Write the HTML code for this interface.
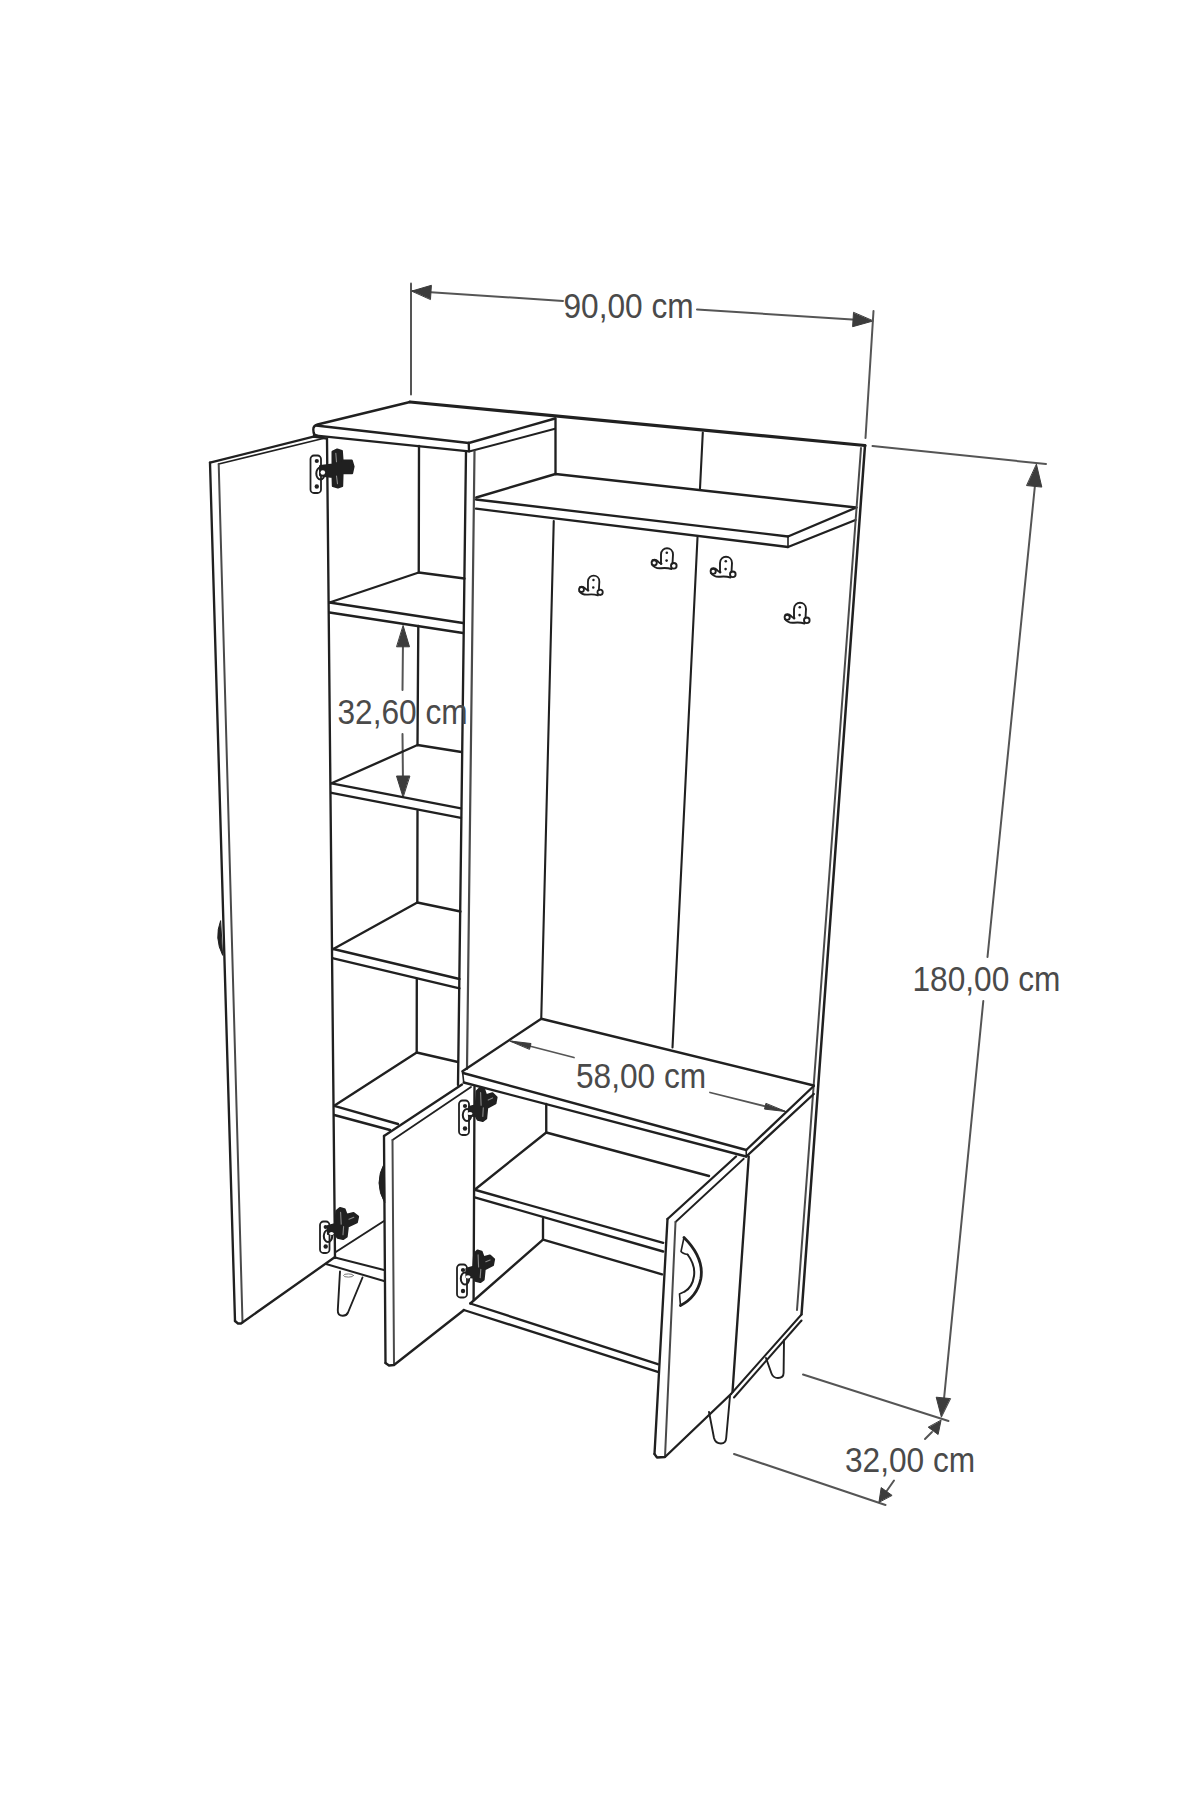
<!DOCTYPE html>
<html><head><meta charset="utf-8"><style>
html,body{margin:0;padding:0;background:#fff;}
svg{display:block;}
text{font-family:"Liberation Sans",sans-serif;}
</style></head><body>
<svg width="1200" height="1800" viewBox="0 0 1200 1800" stroke-linecap="round">
<rect width="1200" height="1800" fill="#fff"/>
<line x1="411" y1="283.5" x2="411" y2="394.5" stroke="#555555" stroke-width="2.0"/>
<line x1="412" y1="291" x2="563" y2="301" stroke="#555555" stroke-width="2.0"/>
<line x1="697" y1="309.5" x2="860" y2="320" stroke="#555555" stroke-width="2.0"/>
<path d="M412.0,291.0 L431.4,285.3 L430.5,299.2 Z" fill="#3c3c3c" stroke="#3c3c3c" stroke-width="1" stroke-linejoin="round"/>
<path d="M873.0,321.0 L852.6,326.7 L853.5,312.7 Z" fill="#3c3c3c" stroke="#3c3c3c" stroke-width="1" stroke-linejoin="round"/>
<line x1="873.5" y1="311" x2="865.5" y2="438" stroke="#555555" stroke-width="2.0"/>
<line x1="872.5" y1="446" x2="1046" y2="464" stroke="#555555" stroke-width="2.0"/>
<line x1="1035.5" y1="480" x2="987.5" y2="957" stroke="#555555" stroke-width="2.0"/>
<line x1="983.3" y1="1001" x2="943.5" y2="1404" stroke="#555555" stroke-width="2.0"/>
<path d="M1036.5,464.5 L1041.8,487.1 L1026.9,485.6 Z" fill="#3c3c3c" stroke="#3c3c3c" stroke-width="1" stroke-linejoin="round"/>
<path d="M941.3,1416.8 L936.2,1397.2 L950.2,1398.6 Z" fill="#3c3c3c" stroke="#3c3c3c" stroke-width="1" stroke-linejoin="round"/>
<line x1="803" y1="1374.5" x2="948.5" y2="1421" stroke="#555555" stroke-width="2.0"/>
<line x1="734" y1="1454" x2="885.5" y2="1505" stroke="#555555" stroke-width="2.0"/>
<line x1="932" y1="1432" x2="925" y2="1439" stroke="#555555" stroke-width="2.0"/>
<line x1="894" y1="1480.5" x2="886" y2="1492" stroke="#555555" stroke-width="2.0"/>
<path d="M941.0,1420.5 L938.1,1434.5 L928.5,1427.4 Z" fill="#3c3c3c" stroke="#3c3c3c" stroke-width="1" stroke-linejoin="round"/>
<path d="M879.0,1502.0 L881.2,1487.6 L891.8,1495.2 Z" fill="#3c3c3c" stroke="#3c3c3c" stroke-width="1" stroke-linejoin="round"/>
<line x1="403" y1="640" x2="402.5" y2="690" stroke="#555555" stroke-width="2.0"/>
<line x1="402.5" y1="734" x2="403" y2="785" stroke="#555555" stroke-width="2.0"/>
<path d="M403.2,625.8 L409.5,646.8 L396.9,646.8 Z" fill="#3c3c3c" stroke="#3c3c3c" stroke-width="1" stroke-linejoin="round"/>
<path d="M403.0,797.0 L396.5,776.0 L409.5,776.0 Z" fill="#3c3c3c" stroke="#3c3c3c" stroke-width="1" stroke-linejoin="round"/>
<line x1="512" y1="1041.5" x2="574" y2="1057.5" stroke="#555555" stroke-width="1.8"/>
<line x1="710" y1="1092.5" x2="784" y2="1111" stroke="#555555" stroke-width="1.8"/>
<path d="M510.0,1041.0 L531.0,1043.5 L529.6,1049.0 Z" fill="#3c3c3c" stroke="#3c3c3c" stroke-width="1" stroke-linejoin="round"/>
<path d="M785.5,1111.5 L764.5,1109.1 L765.8,1103.7 Z" fill="#3c3c3c" stroke="#3c3c3c" stroke-width="1" stroke-linejoin="round"/>
<path d="M210,462.7 L313.5,436.7 L327,438.7" fill="none" stroke="#202020" stroke-width="2.35" stroke-linejoin="round"/>
<line x1="218.7" y1="464" x2="323" y2="438.5" stroke="#202020" stroke-width="1.8"/>
<line x1="210" y1="462.7" x2="235" y2="1321" stroke="#202020" stroke-width="2.35"/>
<line x1="218.7" y1="464" x2="242.5" y2="1322.5" stroke="#4a4a4a" stroke-width="2.0"/>
<path d="M235,1321 L238,1323.5 L241,1323.5 L335,1257" fill="none" stroke="#202020" stroke-width="2.35" stroke-linejoin="round"/>
<line x1="327" y1="438.7" x2="335" y2="1258" stroke="#202020" stroke-width="2.35"/>
<path d="M220.5,921 Q214,938 222.5,955 Z" fill="#202020" stroke="#202020" stroke-width="1" stroke-linejoin="round" />
<path d="M410,402 L317.5,424.5 Q313.2,425.6 313.3,429.5 L313.6,432.5 Q314,435.4 317,435.6" fill="none" stroke="#202020" stroke-width="2.35" stroke-linejoin="round" />
<line x1="410" y1="402" x2="865" y2="445.5" stroke="#202020" stroke-width="3.2"/>
<path d="M555,418.5 L468.75,443" fill="none" stroke="#202020" stroke-width="2.35" stroke-linejoin="round"/>
<path d="M316,425.5 L468.75,443" fill="none" stroke="#202020" stroke-width="2.35" stroke-linejoin="round"/>
<path d="M314,435.3 L469,451.3" fill="none" stroke="#202020" stroke-width="2.35" stroke-linejoin="round"/>
<line x1="468.75" y1="443" x2="469" y2="451.3" stroke="#202020" stroke-width="2.35"/>
<line x1="470" y1="451.3" x2="555" y2="428.75" stroke="#202020" stroke-width="2"/>
<line x1="555.5" y1="418.5" x2="555.5" y2="474" stroke="#202020" stroke-width="2.35"/>
<line x1="702.8" y1="432.5" x2="700" y2="488.5" stroke="#202020" stroke-width="2.1"/>
<line x1="466" y1="451.3" x2="458" y2="1085" stroke="#202020" stroke-width="2.35"/>
<line x1="474.5" y1="451.3" x2="467" y2="1069" stroke="#4a4a4a" stroke-width="2.2"/>
<line x1="419" y1="446" x2="418.75" y2="572.5" stroke="#202020" stroke-width="2.35"/>
<line x1="418.3" y1="626" x2="417.5" y2="745" stroke="#202020" stroke-width="2.35"/>
<line x1="417.5" y1="811" x2="417.3" y2="902.5" stroke="#202020" stroke-width="2.35"/>
<line x1="416.8" y1="979" x2="416.7" y2="1052.5" stroke="#202020" stroke-width="2.35"/>
<path d="M329.5,602.5 L418.75,572.5 L464.5,578.5" fill="none" stroke="#202020" stroke-width="2.35" stroke-linejoin="round"/>
<line x1="329.5" y1="602.5" x2="463" y2="623" stroke="#202020" stroke-width="2.35"/>
<line x1="329.5" y1="612.5" x2="463" y2="633" stroke="#202020" stroke-width="2.35"/>
<path d="M331.5,783.3 L417.5,745 L461.5,752" fill="none" stroke="#202020" stroke-width="2.35" stroke-linejoin="round"/>
<line x1="331.5" y1="783.3" x2="461" y2="808.3" stroke="#202020" stroke-width="2.35"/>
<line x1="331.5" y1="792.8" x2="461" y2="817.8" stroke="#202020" stroke-width="2.35"/>
<path d="M333.3,949 L417.3,902.5 L460.5,911.5" fill="none" stroke="#202020" stroke-width="2.35" stroke-linejoin="round"/>
<line x1="333.3" y1="949" x2="459.5" y2="979" stroke="#202020" stroke-width="2.35"/>
<line x1="333.3" y1="958.3" x2="459.5" y2="988.3" stroke="#202020" stroke-width="2.35"/>
<path d="M334.2,1105.8 L416.7,1052.5 L458,1062" fill="none" stroke="#202020" stroke-width="2.35" stroke-linejoin="round"/>
<line x1="334.2" y1="1105.8" x2="398" y2="1124" stroke="#202020" stroke-width="2.35"/>
<line x1="334.2" y1="1115" x2="390" y2="1130" stroke="#202020" stroke-width="2.35"/>
<line x1="335" y1="1252.5" x2="384" y2="1221" stroke="#202020" stroke-width="2"/>
<line x1="335" y1="1257.5" x2="384" y2="1270" stroke="#202020" stroke-width="2"/>
<line x1="326" y1="1264" x2="384" y2="1281" stroke="#202020" stroke-width="2"/>
<path d="M340,1271.5 L337.8,1310 Q337.5,1315.8 342.8,1315.8 Q346.5,1315.8 348,1312.5 L362.5,1277.5" fill="none" stroke="#202020" stroke-width="1.9" stroke-linejoin="round" />
<ellipse cx="348.5" cy="1275.5" rx="5" ry="1.6" fill="none" stroke="#777" stroke-width="1"/>
<path d="M476.25,497.5 L555.5,474 L856,507.5" fill="none" stroke="#202020" stroke-width="2.35" stroke-linejoin="round"/>
<line x1="476" y1="499.5" x2="788" y2="536.5" stroke="#202020" stroke-width="2.35"/>
<line x1="476" y1="508.7" x2="788" y2="547" stroke="#202020" stroke-width="2.35"/>
<line x1="788" y1="536.5" x2="856.5" y2="507.5" stroke="#202020" stroke-width="2.35"/>
<line x1="788" y1="547" x2="855.5" y2="520" stroke="#202020" stroke-width="2.35"/>
<line x1="788" y1="536.5" x2="788" y2="547" stroke="#202020" stroke-width="1.6"/>
<line x1="553.75" y1="521" x2="541.25" y2="1018.75" stroke="#202020" stroke-width="2.1"/>
<line x1="697.5" y1="537.5" x2="672.5" y2="1047.5" stroke="#202020" stroke-width="2.1"/>
<line x1="865" y1="445.5" x2="801.5" y2="1314.5" stroke="#202020" stroke-width="2.5"/>
<line x1="861" y1="448" x2="797" y2="1310" stroke="#4a4a4a" stroke-width="2"/>
<path d="M462.5,1071.25 L541.25,1018.75 L813.75,1085.5" fill="none" stroke="#202020" stroke-width="2.35" stroke-linejoin="round"/>
<line x1="463" y1="1073" x2="746.25" y2="1150" stroke="#202020" stroke-width="2.35"/>
<line x1="463.75" y1="1082.5" x2="746.25" y2="1156.5" stroke="#202020" stroke-width="2.35"/>
<line x1="746.25" y1="1150" x2="813.75" y2="1086" stroke="#202020" stroke-width="2.35"/>
<line x1="746.25" y1="1156.5" x2="813.75" y2="1094" stroke="#202020" stroke-width="2.35"/>
<line x1="746.25" y1="1150" x2="746.25" y2="1156.5" stroke="#202020" stroke-width="1.6"/>
<line x1="462.5" y1="1071.25" x2="463.75" y2="1082.5" stroke="#202020" stroke-width="1.6"/>
<line x1="748.75" y1="1156.5" x2="732.5" y2="1392" stroke="#202020" stroke-width="2.35"/>
<line x1="731" y1="1394" x2="801.5" y2="1314.5" stroke="#202020" stroke-width="2"/>
<line x1="734" y1="1397.5" x2="801.5" y2="1320.5" stroke="#202020" stroke-width="2"/>
<line x1="546.25" y1="1104" x2="546.25" y2="1132.5" stroke="#202020" stroke-width="2.35"/>
<path d="M474.7,1189.75 L546.25,1132.5 L709,1176" fill="none" stroke="#202020" stroke-width="2.35" stroke-linejoin="round"/>
<line x1="474.7" y1="1189.75" x2="663.2" y2="1242.8" stroke="#202020" stroke-width="2.35"/>
<line x1="474.7" y1="1197.3" x2="663.2" y2="1251.5" stroke="#202020" stroke-width="2.35"/>
<line x1="543" y1="1219" x2="543" y2="1239.6" stroke="#202020" stroke-width="2.35"/>
<path d="M470.3,1303.5 L543,1239.6 L662,1274.3" fill="none" stroke="#202020" stroke-width="2.35" stroke-linejoin="round"/>
<line x1="470.3" y1="1303.5" x2="657.8" y2="1364.2" stroke="#202020" stroke-width="2.35"/>
<line x1="463.8" y1="1310" x2="657.8" y2="1371.8" stroke="#202020" stroke-width="2.35"/>
<path d="M709,1412 L714,1438 Q715.5,1443.5 721,1443.5 Q725.8,1443.5 726.2,1438 L730,1396" fill="none" stroke="#202020" stroke-width="1.9" stroke-linejoin="round" />
<path d="M766,1358 L771.5,1373.5 Q773.2,1378 778,1378 Q783.5,1378 783.6,1373 L784,1340" fill="none" stroke="#202020" stroke-width="1.9" stroke-linejoin="round" />
<path d="M384,1136 L462,1084.5" fill="none" stroke="#202020" stroke-width="2.35" stroke-linejoin="round"/>
<line x1="392.5" y1="1140" x2="471" y2="1087" stroke="#202020" stroke-width="1.8"/>
<line x1="384" y1="1136" x2="385.5" y2="1363" stroke="#202020" stroke-width="2.35"/>
<line x1="392.5" y1="1140" x2="394" y2="1364" stroke="#4a4a4a" stroke-width="2.0"/>
<path d="M385.5,1363 L389,1365.5 L394,1365 L464,1310" fill="none" stroke="#202020" stroke-width="2.35" stroke-linejoin="round"/>
<line x1="474.5" y1="1087" x2="473.6" y2="1300" stroke="#202020" stroke-width="2.35"/>
<path d="M384.2,1163.5 Q373.5,1183 384.6,1202.5 Z" fill="#202020" stroke="#202020" stroke-width="1" stroke-linejoin="round" />
<path d="M667.5,1219 L736,1156.5" fill="none" stroke="#202020" stroke-width="2.35" stroke-linejoin="round"/>
<line x1="675.5" y1="1222" x2="743.75" y2="1158.75" stroke="#202020" stroke-width="1.8"/>
<line x1="667.5" y1="1219" x2="654.5" y2="1454" stroke="#202020" stroke-width="2.35"/>
<line x1="675.5" y1="1222" x2="665" y2="1457" stroke="#4a4a4a" stroke-width="2.0"/>
<path d="M654.5,1454 L657,1457.5 L665,1457 L731,1394" fill="none" stroke="#202020" stroke-width="2.35" stroke-linejoin="round"/>
<path d="M684,1237.5 Q704.5,1258 700.8,1279 Q697,1297 680.5,1305.5" fill="none" stroke="#202020" stroke-width="2.8" stroke-linejoin="round" />
<path d="M687.6,1254.5 Q695.5,1265 694,1276 Q692.5,1287 684.8,1291.5" fill="none" stroke="#202020" stroke-width="2.0" stroke-linejoin="round" />
<path d="M684,1237.5 L681,1251.5 Q682.5,1253.5 687.6,1254.5" fill="none" stroke="#202020" stroke-width="1.6" stroke-linejoin="round" />
<path d="M684.8,1291.5 L679.5,1294 L680.5,1305.5" fill="none" stroke="#202020" stroke-width="1.6" stroke-linejoin="round" />
<g transform="translate(577.5,574.5) scale(0.95)" fill="none" stroke="#202020" stroke-width="1.9"><path d="M11,17 L11,7.5 C11,-0.8 23,-0.8 23,7.5 L22.5,16.5"/><path d="M1.8,17.5 Q5,21.8 11,21.2 Q17,20.6 21.5,22"/><path d="M2.5,13.2 Q5.5,11.8 8,14.5 Q9.5,16.4 11.5,16.8"/><circle cx="4.2" cy="15.8" r="2.6"/><circle cx="23.8" cy="18.8" r="2.8"/><circle cx="16.8" cy="5.8" r="1.3" fill="#202020" stroke="none"/><circle cx="16.6" cy="13.6" r="1.3" fill="#202020" stroke="none"/></g>
<g transform="translate(650,547) scale(1.0)" fill="none" stroke="#202020" stroke-width="1.9"><path d="M11,17 L11,7.5 C11,-0.8 23,-0.8 23,7.5 L22.5,16.5"/><path d="M1.8,17.5 Q5,21.8 11,21.2 Q17,20.6 21.5,22"/><path d="M2.5,13.2 Q5.5,11.8 8,14.5 Q9.5,16.4 11.5,16.8"/><circle cx="4.2" cy="15.8" r="2.6"/><circle cx="23.8" cy="18.8" r="2.8"/><circle cx="16.8" cy="5.8" r="1.3" fill="#202020" stroke="none"/><circle cx="16.6" cy="13.6" r="1.3" fill="#202020" stroke="none"/></g>
<g transform="translate(709,555.5) scale(1.0)" fill="none" stroke="#202020" stroke-width="1.9"><path d="M11,17 L11,7.5 C11,-0.8 23,-0.8 23,7.5 L22.5,16.5"/><path d="M1.8,17.5 Q5,21.8 11,21.2 Q17,20.6 21.5,22"/><path d="M2.5,13.2 Q5.5,11.8 8,14.5 Q9.5,16.4 11.5,16.8"/><circle cx="4.2" cy="15.8" r="2.6"/><circle cx="23.8" cy="18.8" r="2.8"/><circle cx="16.8" cy="5.8" r="1.3" fill="#202020" stroke="none"/><circle cx="16.6" cy="13.6" r="1.3" fill="#202020" stroke="none"/></g>
<g transform="translate(783,601.5) scale(1.0)" fill="none" stroke="#202020" stroke-width="1.9"><path d="M11,17 L11,7.5 C11,-0.8 23,-0.8 23,7.5 L22.5,16.5"/><path d="M1.8,17.5 Q5,21.8 11,21.2 Q17,20.6 21.5,22"/><path d="M2.5,13.2 Q5.5,11.8 8,14.5 Q9.5,16.4 11.5,16.8"/><circle cx="4.2" cy="15.8" r="2.6"/><circle cx="23.8" cy="18.8" r="2.8"/><circle cx="16.8" cy="5.8" r="1.3" fill="#202020" stroke="none"/><circle cx="16.6" cy="13.6" r="1.3" fill="#202020" stroke="none"/></g>
<rect x="310.5" y="455.5" width="10.5" height="37.5" rx="3.5" fill="none" stroke="#202020" stroke-width="1.8"/>
<circle cx="316.8" cy="461.0" r="2.1" fill="#202020"/>
<circle cx="316.8" cy="486.5" r="2.2" fill="#202020"/>
<ellipse cx="320.5" cy="473.5" rx="4.2" ry="6" fill="none" stroke="#202020" stroke-width="2"/>
<path d="M320.1,466.2 L332.6,464.7 L332.6,451.8 L337.2,449.5 L341.8,451.0 L342.5,460.5 L351.7,460.5 L353.5,466.6 L352.1,473.1 L342.5,473.1 L342.1,486.0 L337.9,487.5 L332.9,486.0 L332.6,476.9 L320.1,475.3 Z" fill="#202020" stroke="#202020" stroke-width="2.2" stroke-linejoin="round"/>
<path d="M335.8,453.3 L336.5,461.7 M336.5,476.1 L337.5,483.7" stroke="#8a8a8a" stroke-width="1.1" fill="none"/>
<ellipse cx="322.8" cy="472.5" rx="2.3" ry="2.2" fill="#fff"/>
<rect x="320" y="1221.5" width="9.5" height="31.5" rx="3.5" fill="none" stroke="#202020" stroke-width="1.8"/>
<circle cx="325.7" cy="1227.0" r="2.1" fill="#202020"/>
<circle cx="325.7" cy="1246.5" r="2.2" fill="#202020"/>
<ellipse cx="328" cy="1236" rx="4.2" ry="6" fill="none" stroke="#202020" stroke-width="2"/>
<path d="M328.0,1226.0 L335.5,1224.1 L336.4,1211.1 L340.0,1208.0 L344.5,1209.2 L346.6,1214.8 L353.5,1213.0 L358.0,1216.7 L356.8,1222.3 L347.8,1226.6 L346.6,1236.5 L343.0,1239.0 L337.6,1237.8 L335.5,1234.3 L328.0,1234.0 Z" fill="#202020" stroke="#202020" stroke-width="2.2" stroke-linejoin="round"/>
<path d="M340.6,1212.3 L341.2,1224.1 M343.6,1226.6 L343.0,1234.7 M349.0,1219.2 L353.8,1217.3" stroke="#8a8a8a" stroke-width="1.1" fill="none"/>
<ellipse cx="331.5" cy="1233.5" rx="2.2" ry="1.6" fill="#fff"/>
<rect x="459" y="1100.5" width="10" height="34.5" rx="3.5" fill="none" stroke="#202020" stroke-width="1.8"/>
<circle cx="465.0" cy="1106.0" r="2.1" fill="#202020"/>
<circle cx="465.0" cy="1128.5" r="2.2" fill="#202020"/>
<ellipse cx="467" cy="1115" rx="4.2" ry="6" fill="none" stroke="#202020" stroke-width="2"/>
<path d="M469.0,1107.1 L475.9,1105.2 L476.7,1091.3 L480.0,1088.0 L484.1,1089.3 L486.1,1095.3 L492.4,1093.3 L496.5,1097.2 L495.4,1103.2 L487.1,1107.8 L486.1,1118.4 L482.8,1121.0 L477.8,1119.7 L475.9,1116.0 L469.0,1115.7 Z" fill="#202020" stroke="#202020" stroke-width="2.2" stroke-linejoin="round"/>
<path d="M480.6,1092.6 L481.1,1105.2 M483.3,1107.8 L482.8,1116.4 M488.2,1099.9 L492.6,1097.9" stroke="#8a8a8a" stroke-width="1.1" fill="none"/>
<ellipse cx="470" cy="1113.5" rx="2.5" ry="1.6" fill="#fff"/>
<rect x="457" y="1264.5" width="10" height="33.0" rx="3.5" fill="none" stroke="#202020" stroke-width="1.8"/>
<circle cx="463.0" cy="1270.0" r="2.1" fill="#202020"/>
<circle cx="463.0" cy="1291.0" r="2.2" fill="#202020"/>
<ellipse cx="465" cy="1278.5" rx="4.2" ry="6" fill="none" stroke="#202020" stroke-width="2"/>
<path d="M466.5,1268.8 L473.4,1266.9 L474.2,1253.7 L477.5,1250.5 L481.6,1251.8 L483.6,1257.4 L489.9,1255.5 L494.0,1259.3 L492.9,1265.0 L484.6,1269.4 L483.6,1279.5 L480.2,1282.0 L475.3,1280.7 L473.4,1277.3 L466.5,1277.0 Z" fill="#202020" stroke="#202020" stroke-width="2.2" stroke-linejoin="round"/>
<path d="M478.1,1254.9 L478.6,1266.9 M480.8,1269.4 L480.2,1277.6 M485.8,1261.8 L490.1,1260.0" stroke="#8a8a8a" stroke-width="1.1" fill="none"/>
<ellipse cx="468" cy="1276.8" rx="2.5" ry="1.6" fill="#fff"/>
<text x="0" y="0" font-size="32" fill="#4a4a4a" transform="translate(563.5,318.3) scale(0.99,1.075)">90,00 cm</text>
<text x="0" y="0" font-size="32" fill="#4a4a4a" transform="translate(337.5,724.4) scale(0.99,1.075)">32,60 cm</text>
<text x="0" y="0" font-size="32" fill="#4a4a4a" transform="translate(576,1088) scale(0.99,1.075)">58,00 cm</text>
<text x="0" y="0" font-size="32" fill="#4a4a4a" transform="translate(912.5,991.3) scale(0.99,1.075)">180,00 cm</text>
<text x="0" y="0" font-size="32" fill="#4a4a4a" transform="translate(845,1471.8) scale(0.99,1.075)">32,00 cm</text>
</svg>
</body></html>
